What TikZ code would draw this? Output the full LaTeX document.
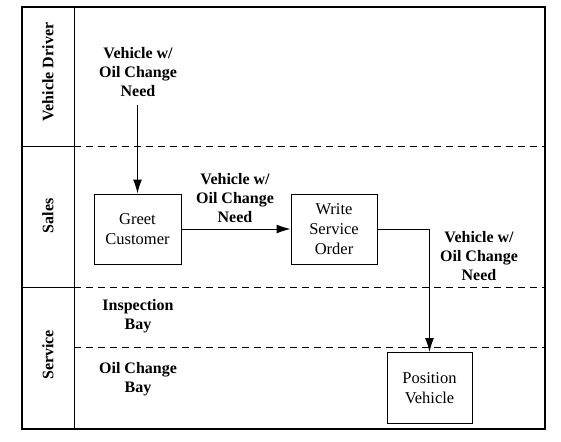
\documentclass[tikz,border=0pt]{standalone}
\usepackage{fontspec}
\setmainfont{Liberation Serif}
\usepackage{tikz}
\usetikzlibrary{arrows.meta, positioning, calc}
\tikzset{
  procbox/.style={draw, line width=1pt, minimum width=87pt, minimum height=70pt, align=center, font=\fontsize{16.5}{20}\selectfont, inner sep=2pt},
  flowlabel/.style={align=center, font=\fontsize{16}{19}\selectfont\bfseries},
  lanelabel/.style={rotate=90, font=\fontsize{16}{17}\selectfont\bfseries},
  flowarrow/.style={-{Latex[length=14pt,width=9pt]}, line width=1pt},
  lanedash/.style={dash pattern=on 7pt off 5pt, line width=0.9pt},
  laneline/.style={line width=1pt},
}

\begin{document}
\begin{tikzpicture}[x=1pt, y=-1pt]
  \useasboundingbox (0,0) rectangle (561,441);
  % lanes
  \draw[line width=1.3pt] (22,7) rectangle (545,429);
  \draw[laneline] (74,7) -- (74,429);
  \draw[laneline] (22,146) -- (74,146);
  \draw[laneline] (22,287) -- (74,287);
  \draw[lanedash] (74,146) -- (545,146);
  \draw[lanedash] (74,287) -- (545,287);
  \draw[lanedash] (74,347) -- (545,347);
  \node[lanelabel] (driver) at (48,72) {Vehicle Driver};
  \node[lanelabel] (sales) at (48,216) {Sales};
  \node[lanelabel] (service) at (48,355) {Service};
  \node[flowlabel] (inspbay) at (138,316) {Inspection\\Bay};
  \node[flowlabel] (oilbay) at (138,379) {Oil Change\\Bay};
  % steps
  \node[procbox] (greet) at (137.5,229) {Greet\\Customer};
  \node[procbox, minimum width=86pt] (write) at (334,229) {Write\\Service\\Order};
  \node[procbox, minimum width=85pt, minimum height=71pt] (position) at (429.5,388) {Position\\Vehicle};
  % flows
  \node[flowlabel] (need1) at (138,72) {Vehicle w/\\Oil Change\\Need};
  \node[flowlabel] (need2) at (235,198) {Vehicle w/\\Oil Change\\Need};
  \node[flowlabel] (need3) at (479,256) {Vehicle w/\\Oil Change\\Need};
  \coordinate (start) at (137.5,105);
  \draw[flowarrow] (start) -- (greet.north);
  \draw[flowarrow] (greet.east) -- (write.west);
  \draw[flowarrow] (write.east) -| (position.north);
\end{tikzpicture}
\end{document}
